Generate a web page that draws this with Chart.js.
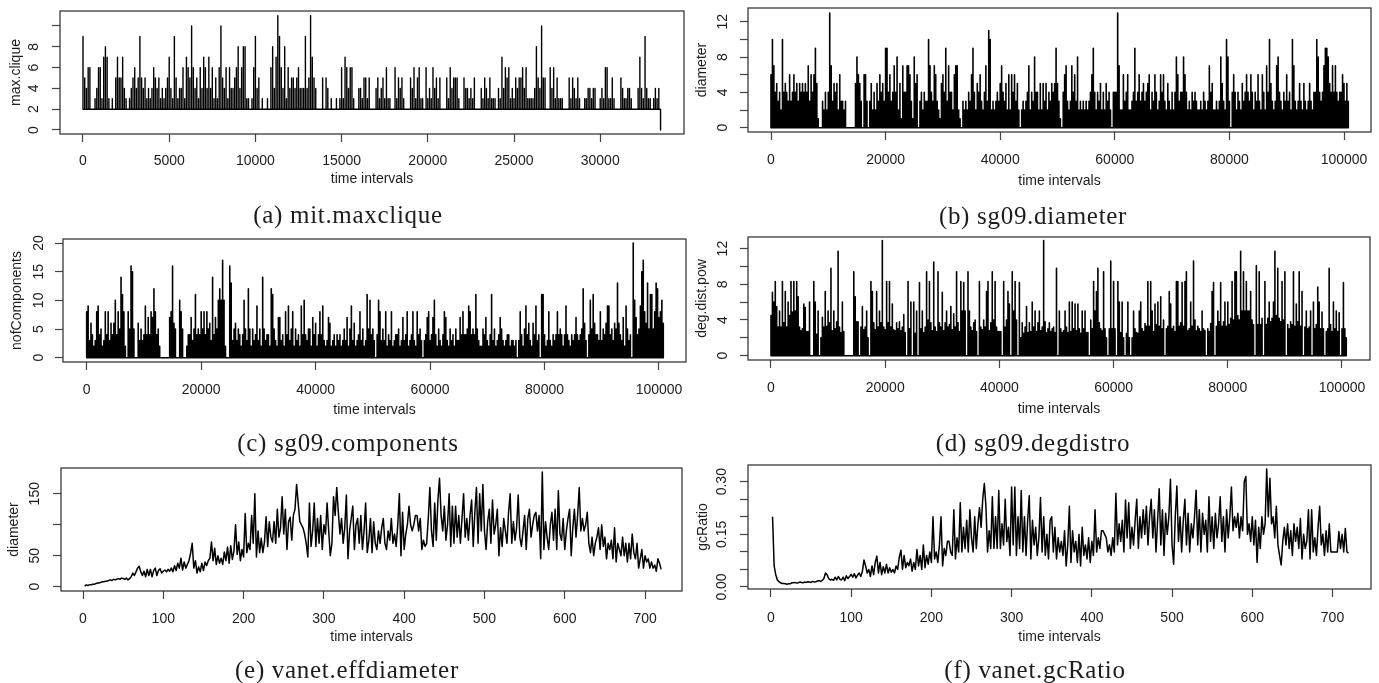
<!DOCTYPE html>
<html>
<head>
<meta charset="utf-8">
<title>Temporal graph metrics</title>
<script src="https://cdn.jsdelivr.net/npm/chart.js@4"></script>
<style>
    html, body { margin: 0; padding: 0; background: #fff; width: 1379px; height: 683px; overflow: hidden; }
    canvas { position: absolute; filter: blur(0.35px); }
    .caption { position: absolute; width: 500px; text-align: center; font: 25px "Liberation Serif", serif; color: #1c1c1c; line-height: 28px; letter-spacing: 0.7px; filter: blur(0.3px); }
</style>
</head>
<body>
<script>
// tick values and the labels R kept for them
const cliqueXTicks = [0, 5000, 10000, 15000, 20000, 25000, 30000];
const cliqueYTicks = [0, 2, 4, 6, 8, 10];
const cliqueYLabels = ['0', '2', '4', '6', '8', ''];
const longXTicks = [0, 20000, 40000, 60000, 80000, 100000];
const diameterYTicks = [0, 2, 4, 6, 8, 10, 12];
const diameterYLabels = ['0', '', '4', '', '8', '', '12'];
const componentYTicks = [0, 5, 10, 15, 20];
const vanetXTicks = [0, 100, 200, 300, 400, 500, 600, 700];
const effYTicks = [0, 50, 100, 150];
const effYLabels = ['0', '50', '', '150'];
const ratioYTicks = [0, 0.05, 0.10, 0.15, 0.20, 0.25, 0.30];
const ratioYLabels = ['0.00', '', '', '0.15', '', '', '0.30'];

// (a) top of the trace per column, one column every 100 intervals
const maxClique = [
    9,5,4,6,6,2,2,3,4,6,6,3,7,8,7,3,2,3,2,5,7,5,5,7,4,3,2,3,4,5,6,4,5,9,5,4,5,3,4,3,4,6,5,4,5,3,4,3,4,5,
    7,4,3,9,5,3,4,4,6,3,7,6,5,10,6,4,5,3,6,4,7,6,4,7,4,6,3,5,3,6,10,5,4,6,3,6,4,4,5,6,8,4,6,8,8,3,3,2,3,6,
    9,4,5,2,3,2,2,3,2,6,8,4,7,11,9,6,4,8,3,6,4,5,5,4,5,6,4,4,4,9,4,5,11,7,5,4,2,2,2,5,2,5,4,2,3,2,2,3,2,3,
    6,3,7,6,4,6,6,3,2,2,4,4,3,5,5,3,5,2,2,2,4,5,3,4,5,3,6,3,3,2,2,6,3,5,4,5,3,2,2,2,5,4,6,3,5,6,3,3,2,6,
    3,4,3,6,4,5,3,5,2,2,2,5,3,6,4,5,5,5,3,2,2,5,4,4,3,4,3,5,2,2,2,4,3,5,4,3,5,3,3,3,2,4,3,7,4,6,5,6,3,4,
    3,5,4,5,5,6,4,6,3,3,3,3,4,8,5,4,10,5,5,2,2,6,4,6,3,5,3,3,3,2,2,2,5,3,5,4,3,5,3,2,2,3,3,4,4,3,4,4,2,2,
    3,4,3,6,6,3,3,5,3,2,2,2,5,4,3,3,4,4,3,2,2,2,4,7,4,3,9,4,3,3,2,3,4,3,4,0
];

// (b) one column every 250 intervals
const sgDiameter = [
    6,10,7,4,5,3,4,2,10,4,5,4,3,6,3,4,6,4,5,3,
    5,4,5,4,5,4,7,3,6,4,6,9,5,1,0,0,3,2,4,2,
    4,13,7,3,5,4,5,2,6,3,3,2,3,0,0,0,0,0,0,5,
    8,6,5,3,0,6,6,3,0,3,5,2,4,2,5,3,6,4,5,3,
    9,9,4,6,3,4,7,4,8,2,5,1,7,4,4,7,7,6,3,1,
    8,5,6,0,3,4,2,4,3,3,10,7,4,3,7,6,3,2,1,5,
    6,4,9,3,7,4,4,2,6,7,7,2,1,0,3,2,3,2,4,3,
    6,9,4,2,5,4,6,3,2,4,7,3,11,10,2,3,2,3,4,3,
    5,7,4,3,5,2,6,2,6,4,6,3,5,2,0,2,3,2,3,4,
    7,2,4,3,8,4,4,2,5,2,5,3,5,2,4,3,5,4,5,9,
    5,3,1,0,4,6,7,3,2,3,7,4,6,3,8,2,3,2,3,2,
    3,2,3,4,6,9,4,2,4,3,5,2,4,2,5,3,4,2,0,4,
    4,4,13,7,2,2,6,3,4,6,2,2,3,4,9,3,4,6,3,4,
    5,3,4,5,6,2,4,3,6,4,2,3,6,4,6,3,2,5,3,2,
    4,2,4,8,6,3,4,4,8,6,4,2,3,2,4,3,4,3,2,2,
    3,2,4,3,2,3,7,4,5,2,2,3,2,3,8,5,3,2,10,8,
    3,0,4,6,4,2,4,3,2,5,3,4,6,4,3,6,4,2,4,3,
    6,3,2,6,4,2,7,4,10,5,3,2,3,7,8,4,3,2,4,3,
    6,3,4,2,10,7,3,2,3,5,3,2,5,3,2,3,5,3,2,4,
    4,10,8,4,3,4,7,9,9,8,5,4,7,4,7,4,3,4,4,6,
    5,3,5,3
];

// (c) one column every 250 intervals
const sgComponents = [
    8,9,3,6,4,2,3,8,9,4,5,2,3,8,4,8,3,6,4,6,
    10,4,8,5,14,11,8,2,0,8,5,16,15,5,0,0,6,3,5,3,
    4,9,4,7,4,8,7,12,8,4,5,2,0,0,0,0,0,0,7,8,
    16,6,5,0,0,10,8,5,0,0,2,4,4,7,3,5,11,4,5,4,
    8,5,8,4,8,5,6,3,14,4,7,5,10,12,10,17,10,2,0,0,
    16,13,3,5,6,3,5,4,2,4,10,5,3,12,5,2,5,3,4,9,
    3,5,2,14,5,3,4,4,2,12,11,5,3,2,7,7,3,4,2,8,
    4,9,3,5,8,2,5,3,4,2,9,4,10,4,3,5,5,2,7,4,
    6,2,4,8,4,9,3,2,3,7,6,2,3,4,2,4,3,4,2,3,
    5,3,7,2,5,9,3,6,2,3,4,8,3,5,2,3,11,5,10,4,
    5,3,0,4,10,8,3,5,3,8,2,4,3,8,2,3,4,4,5,2,
    3,7,3,4,8,2,3,4,8,3,2,8,4,5,3,0,3,4,7,8,
    3,4,7,10,4,2,5,3,2,4,8,7,3,2,5,3,4,2,5,3,
    3,7,4,8,4,4,5,9,8,4,5,4,11,5,3,2,2,5,4,7,
    3,2,4,11,3,5,2,3,4,7,5,3,2,3,4,4,2,3,3,2,
    3,0,3,8,4,2,5,9,4,6,3,2,6,4,9,3,4,0,11,11,
    4,2,3,8,3,2,4,3,4,8,4,5,4,2,4,9,4,3,2,4,
    3,4,7,4,3,4,5,12,6,3,0,4,10,5,11,6,4,4,3,8,
    3,5,4,6,9,9,4,5,3,6,5,13,6,4,3,7,2,9,5,3,
    4,0,20,10,7,4,5,9,15,17,8,6,13,5,11,11,5,8,13,12,
    7,8,10,6
];

// (d) one column every 250 intervals
const sgDegDist = [
    4.5,7.1,6,8.3,5.5,3.2,5,3.2,8.3,3.7,7.2,3.2,6,4.5,8.3,4.9,8.3,5,8.3,6.6,
    3.2,2.8,3,5.8,5.4,2.7,2.7,6,0,0,8.3,6,2.4,5,0,2,4.3,3.2,7.2,3.3,
    5,3.7,9.8,2.8,5,3,3.8,11.7,3.2,2.6,6,2.7,0,0,0,0,0,0,9.4,6.6,
    3.8,3.8,0,3.2,5.5,2.9,3.2,5,2,0,8.3,7.2,3.7,2.9,7.2,3.2,5,3.7,12.9,3.2,
    2.9,8.3,3.7,8.3,3.2,5.8,2.9,2.8,3.7,3,3.8,2.8,3.2,4.6,2.6,0,8.3,3,6,0,
    6,2.5,5,0,8.2,3,5,2.6,3.2,9.4,4,8.3,3.7,2.8,10.5,3.2,2.7,9.4,3.7,3.2,
    7.1,2.8,3.7,5,3.2,3.5,5.5,2.9,4.7,3.2,9.4,3.7,2.7,8.3,5,8.2,5,0,9.4,5,
    3.2,2.8,3.7,4,2.7,0,8.3,3.2,2.9,4,3.2,7.2,8.3,2.8,3.7,9.4,4,8.3,3.2,2.7,
    2.7,2.7,0,8.3,3.2,4,7.2,5.8,0,9.4,5,8.3,4,0,8.2,2,3.7,2.5,3.2,5.5,
    2.6,3.7,2.7,6,3.2,5,2.7,3.7,5,2.8,3.2,12.9,3.8,2.6,3,3.7,2.7,3,3.2,2.6,
    9.8,0,5,3,2.6,2.8,5,3.2,2.6,6,2.7,6,3,5.8,2.8,5.8,3,2.5,5,3,
    5,2.6,2.6,0,4,3,8.3,5,7.2,9.8,3.7,3,2.8,9.4,3,2,0,3,10.6,3,
    8.3,3,0,8.3,6,2.6,6,2,0,2.5,6,2,0,2,5,3,2.6,2.5,5,6,
    3,2.7,3.6,3.3,8.3,3.3,8.3,5,2.7,5.8,3.5,6,3.3,6.6,3,4,0,3,3.3,7.2,
    5.8,3,3.3,2.7,8.3,8.3,3.3,3.7,8.2,3.3,8.3,9.4,2.8,3,6,3.3,10.6,4,2.8,3.3,
    3,2.7,5,3,2.8,0,3,2.7,3.6,7.2,8.2,0,3.3,5,3.8,8.2,3.3,3.8,6,3.3,
    6,3.5,4.2,8.3,4,9.4,9.4,4.5,4,11.7,5,9.4,5,8.3,5,5,7.2,4,3.5,0,
    10.1,3.5,9.4,3.5,4.2,0,8.3,3.5,4.2,6,3.8,4.2,6,11.7,4.5,9.8,4.2,3.8,8.3,4,
    9.4,0,3.5,3,3.8,3.5,9.4,3.3,5.8,3.8,9.4,3.3,7.2,0,3.2,5,3,3.2,5,0,
    6,3,3.5,7.7,6,3,4.9,3,0,2.7,3,9.8,3.5,2.7,6,3,5,2.7,4.8,0,
    3,8.2,3,2
];

// (e) read every second interval, starting at 2
const effDiameter = [
    1,3,2,3,3,4,4,5,6,6,7,8,8,9,9,10,11,10,12,11,
    12,13,12,14,13,12,14,11,13,16,22,18,24,30,33,24,18,25,16,28,
    18,28,16,26,30,18,26,29,22,25,27,24,28,25,30,24,34,26,38,30,
    46,27,40,30,36,42,54,70,30,42,22,32,24,38,26,40,34,42,46,72,
    42,62,36,50,38,46,36,56,42,64,38,66,44,58,100,52,72,42,60,48,
    118,55,70,60,115,70,150,48,90,55,78,55,72,113,65,105,80,72,105,70,
    125,80,95,145,85,125,60,105,112,75,115,125,165,135,105,100,95,85,70,48,
    135,65,90,135,65,110,70,115,60,100,85,135,90,50,70,145,115,160,120,85,
    110,70,95,148,45,90,110,130,60,100,110,70,115,60,90,135,55,75,110,55,
    105,70,60,90,70,95,110,70,60,90,75,110,70,85,65,100,150,50,120,60,
    85,100,130,100,90,100,115,115,90,110,60,75,65,70,110,160,90,65,135,75,
    140,175,115,90,130,75,100,150,65,130,70,130,80,115,70,110,150,80,110,75,
    115,140,65,120,160,70,150,90,165,90,60,105,125,70,140,85,100,125,50,95,
    65,110,90,70,120,150,70,105,75,95,148,80,65,90,115,60,110,125,80,100,
    115,120,90,115,45,185,60,105,80,60,100,120,75,125,60,155,85,75,110,60,
    90,110,125,50,95,125,80,115,160,90,110,90,100,120,70,55,80,50,70,80,
    95,60,100,65,80,45,70,60,75,45,95,40,70,60,50,80,50,70,40,70,
    45,85,55,45,70,30,45,60,30,50,40,45,30,40,30,35,25,45,38,28
];

// (f) read every second interval, starting at 2
const gcRatio = [
    .20,.06,.035,.02,.015,.012,.01,.01,.009,.008,.009,.009,.012,.012,.013,.011,.012,.014,.013,.012,
    .014,.013,.015,.014,.013,.016,.014,.015,.017,.018,.016,.019,.024,.04,.035,.024,.02,.022,.019,.028,
    .02,.03,.022,.02,.028,.018,.032,.024,.03,.036,.028,.038,.026,.034,.04,.03,.045,.077,.06,.04,
    .05,.03,.06,.035,.07,.088,.04,.07,.035,.058,.04,.065,.04,.055,.042,.05,.04,.06,.05,.085,
    .105,.05,.09,.055,.07,.06,.08,.045,.07,.05,.107,.06,.09,.05,.12,.055,.09,.065,.1,.07,
    .20,.08,.1,.07,.12,.2,.06,.11,.09,.13,.13,.1,.09,.22,.08,.14,.1,.24,.1,.17,
    .11,.19,.1,.22,.14,.1,.2,.11,.18,.226,.17,.25,.295,.23,.1,.16,.11,.257,.11,.2,
    .11,.275,.11,.18,.12,.25,.13,.17,.09,.285,.12,.285,.09,.2,.11,.275,.1,.2,.09,.19,
    .26,.08,.19,.12,.17,.09,.14,.255,.1,.2,.09,.15,.08,.19,.2,.1,.17,.08,.14,.1,
    .13,.09,.16,.06,.12,.23,.07,.16,.1,.13,.07,.15,.06,.17,.09,.12,.08,.14,.07,.13,
    .09,.22,.1,.14,.11,.16,.16,.15,.14,.1,.12,.09,.14,.1,.267,.12,.18,.13,.19,.1,
    .248,.14,.24,.11,.17,.12,.19,.25,.11,.2,.14,.22,.15,.23,.12,.2,.25,.14,.22,.1,
    .19,.28,.12,.22,.09,.21,.15,.2,.307,.12,.065,.2,.288,.13,.2,.1,.19,.25,.12,.21,
    .1,.18,.14,.2,.276,.12,.22,.1,.21,.15,.19,.1,.257,.13,.2,.11,.21,.14,.18,.257,
    .13,.2,.1,.22,.14,.2,.285,.16,.2,.17,.21,.14,.2,.16,.3,.315,.15,.18,.13,.2,
    .12,.19,.07,.17,.11,.2,.15,.18,.336,.2,.31,.18,.2,.14,.23,.12,.09,.063,.13,.17,
    .12,.18,.11,.16,.09,.18,.13,.17,.11,.195,.08,.15,.11,.13,.22,.08,.22,.1,.14,.09,
    .17,.23,.12,.15,.09,.16,.1,.18,.1,.1,.1,.1,.1,.158,.11,.15,.1,.167,.1,.096
];

// up and down from the resting level at each column, like type="l" on a busy series
function combPoints(tops, every, rest) {
    const pts = [];
    tops.forEach((top, i) => {
        const x = i * every;
        pts.push({ x: x, y: rest }, { x: x, y: top }, { x: x, y: rest });
    });
    return pts;
}

function tracePoints(values, every) {
    return values.map((v, i) => ({ x: (i + 1) * every, y: v }));
}

// draws the box R puts round the plot
const boxPlugin = {
    id: 'plotBox',
    afterDraw(chart) {
        const { ctx, chartArea: a } = chart;
        ctx.save();
        ctx.strokeStyle = '#3a3a3a';
        ctx.lineWidth = 1.3;
        ctx.strokeRect(a.left, a.top, a.right - a.left, a.bottom - a.top);
        ctx.restore();
    }
};

function addPanel(p) {
    const canvas = document.createElement('canvas');
    canvas.width = p.width;
    canvas.height = p.height;
    canvas.style.left = p.left + 'px';
    canvas.style.top = p.top + 'px';
    document.body.appendChild(canvas);

    const tickFont = { family: '"Liberation Sans", Arial, sans-serif', size: 14 };
    new Chart(canvas, {
        type: 'line',
        data: { datasets: [{ data: p.points, borderColor: '#000', borderWidth: p.lineWidth, borderJoinStyle: 'round', pointRadius: 0, tension: 0, fill: false }] },
        plugins: [boxPlugin],
        options: {
            responsive: false,
            animation: false,
            parsing: false,
            layout: { autoPadding: false, padding: { left: 0, top: p.box.top - p.top, right: p.left + p.width - p.box.right, bottom: 0 } },
            plugins: { legend: { display: false }, title: { display: false }, tooltip: { enabled: false } },
            scales: {
                x: {
                    type: 'linear',
                    min: p.xMin,
                    max: p.xMax,
                    afterBuildTicks: (scale) => { scale.ticks = p.xTicks.map(v => ({ value: v })); },
                    afterFit: (scale) => {
                        scale.height = p.top + p.height - p.box.bottom;
                        scale.paddingLeft = 0;
                        scale.paddingRight = 0;
                    },
                    grid: { drawOnChartArea: false, drawTicks: true, tickLength: 8, tickColor: '#444', tickWidth: 1.2 },
                    border: { display: false },
                    ticks: { autoSkip: false, maxRotation: 0, minRotation: 0, padding: p.xPad, color: '#1c1c1c', font: tickFont, callback: v => String(v) },
                    title: { display: true, text: 'time intervals', color: '#1c1c1c', font: tickFont, padding: { top: 0, bottom: p.xTitlePad } }
                },
                y: {
                    type: 'linear',
                    min: p.yMin,
                    max: p.yMax,
                    afterBuildTicks: (scale) => { scale.ticks = p.yTicks.map(v => ({ value: v })); },
                    afterFit: (scale) => {
                        scale.width = p.box.left - p.left;
                        // rotated labels and their padding would otherwise push the plot top down
                        scale.paddingTop = 0;
                        scale.paddingBottom = 0;
                    },
                    grid: { drawOnChartArea: false, drawTicks: true, tickLength: 8, tickColor: '#444', tickWidth: 1.2 },
                    border: { display: false },
                    ticks: {
                        autoSkip: false, minRotation: 90, maxRotation: 90, crossAlign: 'center', padding: p.yPad,
                        color: '#1c1c1c', font: tickFont,
                        callback: (v, i) => p.yLabels ? p.yLabels[i] : String(v)
                    },
                    title: { display: true, text: p.yTitle, color: '#1c1c1c', font: tickFont, padding: { top: p.yTitlePad, bottom: 0 } }
                }
            }
        }
    });

    const cap = document.createElement('div');
    cap.className = 'caption';
    cap.textContent = p.caption;
    cap.style.left = (p.captionX - 250) + 'px';
    cap.style.top = (p.captionY - 14) + 'px';
    document.body.appendChild(cap);
}

addPanel({
    left: 0, top: 0, width: 690, height: 195, box: { left: 60, right: 684, top: 11, bottom: 134 },
    points: combPoints(maxClique, 100, 2), lineWidth: 1.4,
    xMin: -1334, xMax: 34860, yMin: -0.385, yMax: 11.44,
    xTicks: cliqueXTicks, yTicks: cliqueYTicks, yLabels: cliqueYLabels,
    xPad: 11, xTitlePad: 7.6, yPad: 14, yTitlePad: 7.6,
    yTitle: 'max.clique', caption: '(a) mit.maxclique', captionX: 348, captionY: 215
});
addPanel({
    left: 690, top: 0, width: 689, height: 195, box: { left: 748, right: 1371, top: 8, bottom: 132 },
    points: combPoints(sgDiameter, 250, 0), lineWidth: 1.6,
    xMin: -4014, xMax: 104712, yMin: -0.487, yMax: 13.56,
    xTicks: longXTicks, yTicks: diameterYTicks, yLabels: diameterYLabels,
    xPad: 11.5, xTitlePad: 5.6, yPad: 9.2, yTitlePad: 3.6,
    yTitle: 'diameter', caption: '(b) sg09.diameter', captionX: 1033, captionY: 216
});
addPanel({
    left: 0, top: 225, width: 690, height: 195, box: { left: 63, right: 686, top: 239, bottom: 362 },
    points: combPoints(sgComponents, 250, 0), lineWidth: 1.6,
    xMin: -4141, xMax: 104718, yMin: -0.75, yMax: 20.7,
    xTicks: longXTicks, yTicks: componentYTicks,
    xPad: 12, xTitlePad: 1.6, yPad: 8.2, yTitlePad: 8.3,
    yTitle: 'nofComponents', caption: '(c) sg09.components', captionX: 348, captionY: 443
});
addPanel({
    left: 690, top: 225, width: 689, height: 195, box: { left: 748, right: 1370, top: 237, bottom: 360 },
    points: combPoints(sgDegDist, 250, 0), lineWidth: 1.6,
    xMin: -4028, xMax: 104904, yMin: -0.482, yMax: 13.3,
    xTicks: longXTicks, yTicks: diameterYTicks, yLabels: diameterYLabels,
    xPad: 12, xTitlePad: 2.6, yPad: 9.5, yTitlePad: 3.6,
    yTitle: 'deg.dist.pow', caption: '(d) sg09.degdistro', captionX: 1033, captionY: 443
});
addPanel({
    left: 0, top: 455, width: 690, height: 195, box: { left: 61, right: 682, top: 468, bottom: 591 },
    points: tracePoints(effDiameter, 2), lineWidth: 1.5,
    xMin: -27.4, xMax: 746, yMin: -6.9, yMax: 191.5,
    xTicks: vanetXTicks, yTicks: effYTicks, yLabels: effYLabels,
    xPad: 12, xTitlePad: 4.6, yPad: 6.3, yTitlePad: 6.1,
    yTitle: 'diameter', caption: '(e) vanet.effdiameter', captionX: 347, captionY: 670
});
addPanel({
    left: 690, top: 455, width: 689, height: 195, box: { left: 748, right: 1371, top: 465, bottom: 589 },
    points: tracePoints(gcRatio, 2), lineWidth: 1.5,
    xMin: -28.6, xMax: 748, yMin: -0.0057, yMax: 0.3476,
    xTicks: vanetXTicks, yTicks: ratioYTicks, yLabels: ratioYLabels,
    xPad: 13, xTitlePad: 4.6, yPad: 4.4, yTitlePad: 4.6,
    yTitle: 'gcRatio', caption: '(f) vanet.gcRatio', captionX: 1035, captionY: 670
});
</script>
</body>
</html>
